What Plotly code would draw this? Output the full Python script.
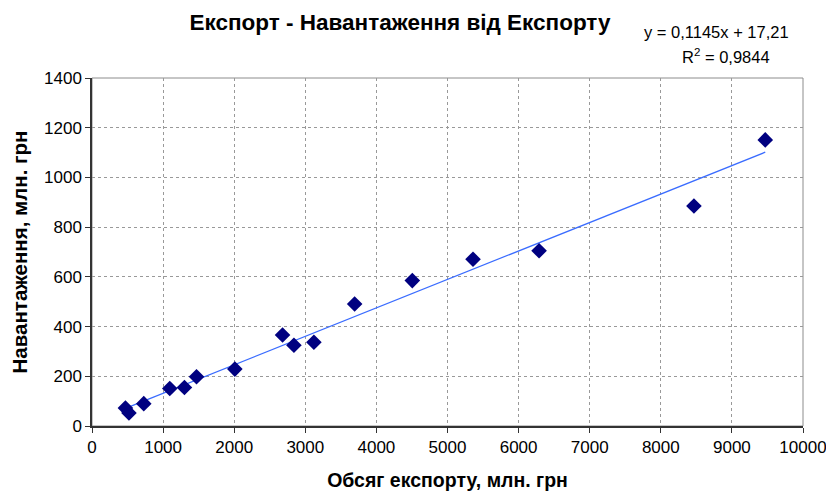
import plotly.graph_objects as go

export_volume = [470, 520, 728, 1094, 1300, 1470, 2009, 2680, 2840, 3121, 3694, 4505, 5359, 6288, 8466, 9469]
burden = [72, 52, 90, 151, 155, 198, 229, 366, 325, 337, 491, 585, 671, 705, 885, 1151]

slope = 0.1145
intercept = 17.21
r_squared = 0.9844

x_ticks = [0, 1000, 2000, 3000, 4000, 5000, 6000, 7000, 8000, 9000, 10000]
y_ticks = [0, 200, 400, 600, 800, 1000, 1200, 1400]

title_text = "Експорт - Навантаження від Експорту"
x_title = "Обсяг експорту, млн. грн"
y_title = "Навантаження, млн. грн"

x_min, x_max = min(export_volume), max(export_volume)
trend_x = [x_min, x_max]
trend_y = [slope * v + intercept for v in trend_x]

font = "Liberation Sans, Arial, sans-serif"

fig = go.Figure()
fig.add_trace(go.Scatter(
    x=trend_x, y=trend_y, mode="lines",
    line=dict(color="#3a6cff", width=1.3),
    showlegend=False, hoverinfo="skip"))
fig.add_trace(go.Scatter(
    x=export_volume, y=burden, mode="markers",
    marker=dict(symbol="diamond", size=12, color="#000080",
                line=dict(width=0)),
    showlegend=False))

fig.update_layout(
    width=834, height=496,
    margin=dict(l=84, r=39, t=70, b=78),
    paper_bgcolor="white", plot_bgcolor="white",
    font=dict(family=font, size=17, color="black"),
    title=dict(text="<b>" + title_text + "</b>", x=0.470, xanchor="center",
               y=0.972, yanchor="middle", font=dict(size=22.5, family=font)),
    xaxis=dict(range=[0, 10000], tickvals=x_ticks, ticktext=[str(t) for t in x_ticks],
               showgrid=True, gridcolor="#999999", griddash="3px,3px", gridwidth=1,
               showline=True, linecolor="#333333", linewidth=1.5, mirror=False,
               ticks="outside", ticklen=5, tickcolor="#333333",
               zeroline=False, automargin=False, tickfont=dict(size=17),
               title=dict(text="<b>" + x_title + "</b>", font=dict(size=19.5), standoff=17)),
    yaxis=dict(range=[0, 1400], tickvals=y_ticks, ticktext=[str(t) for t in y_ticks],
               showgrid=True, gridcolor="#999999", griddash="3px,3px", gridwidth=1,
               showline=True, linecolor="#333333", linewidth=1.5,
               ticks="outside", ticklen=5, tickcolor="#333333",
               zeroline=False, automargin=False, tickfont=dict(size=17),
               title=dict(text="<b>" + y_title + "</b>", font=dict(size=20.5), standoff=14)),
    shapes=[dict(type="rect", xref="paper", yref="paper", x0=0, y0=0, x1=1, y1=1,
                 line=dict(color="#8c8c8c", width=1), layer="below")],
    annotations=[
        dict(text="y = " + f"{slope:.4f}".replace(".", ",") + "x + " + f"{intercept:.2f}".replace(".", ","),
             xref="paper", yref="paper", x=0.878, y=1.132, xanchor="center", yanchor="middle",
             showarrow=False, font=dict(size=16.5, family=font)),
        dict(text="R<sup>2</sup> = " + f"{r_squared:.4f}".replace(".", ","),
             xref="paper", yref="paper", x=0.892, y=1.063, xanchor="center", yanchor="middle",
             showarrow=False, font=dict(size=16.5, family=font)),
    ],
)

fig.write_html("out.html")
